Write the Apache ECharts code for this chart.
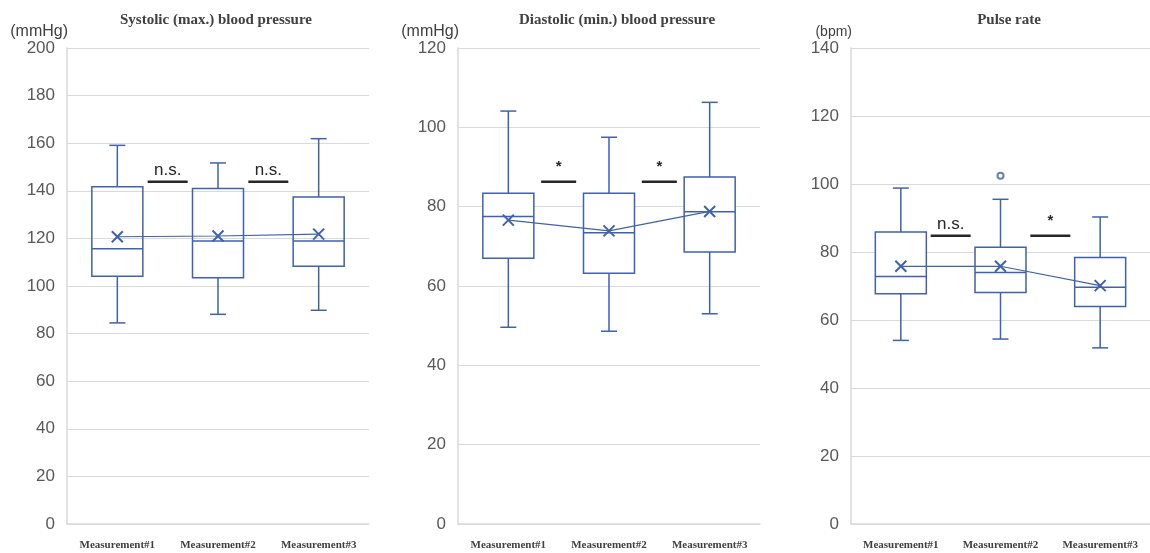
<!DOCTYPE html>
<html>
<head>
<meta charset="utf-8">
<script src="https://cdn.jsdelivr.net/npm/echarts@6/dist/echarts.min.js"></script>
<style>
  html, body { margin: 0; padding: 0; background: #fff; }
  #chart { width: 1150px; height: 553px; }
</style>
</head>
<body>
<div id="chart"></div>
<script>
// Categories shared by all three panels
const categories = ['Measurement#1', 'Measurement#2', 'Measurement#3'];

// Panel titles, units and y-axis ranges
const titles = ['Systolic (max.) blood pressure', 'Diastolic (min.) blood pressure', 'Pulse rate'];
const units = ['(mmHg)', '(mmHg)', '(bpm)'];
const yMax = [200, 120, 140];

// Box statistics: [low whisker, Q1, median, Q3, high whisker]
const systolicBoxes = [
  [84.5, 104.1, 115.7, 141.7, 159.1],
  [88.1, 103.5, 118.9, 141.0, 151.7],
  [89.8, 108.3, 118.9, 137.4, 161.9]
];
const diastolicBoxes = [
  [49.6, 67.0, 77.5, 83.4, 104.1],
  [48.6, 63.2, 73.4, 83.4, 97.5],
  [53.0, 68.6, 78.7, 87.5, 106.3]
];
const pulseBoxes = [
  [54.0, 67.7, 72.8, 85.9, 98.8],
  [54.4, 68.1, 74.0, 81.4, 95.5],
  [51.8, 64.0, 69.6, 78.4, 90.3]
];

// Means (marked with ×, joined by a line)
const systolicMeans = [120.7, 121.0, 121.8];
const diastolicMeans = [76.6, 73.9, 78.8];
const pulseMeans = [75.8, 75.8, 70.1];

// Outliers: [category index, value]
const pulseOutliers = [[1, 102.4]];

// Significance marks between neighbouring groups: [left group index, bar height]
const systolicSig = [[0, 143.8], [1, 143.8]];
const systolicSigText = ['n.s.', 'n.s.'];
const diastolicSig = [[0, 86.3], [1, 86.3]];
const diastolicSigText = ['*', '*'];
const pulseSig = [[0, 84.8], [1, 84.8]];
const pulseSigText = ['n.s.', '*'];

const boxSets = [systolicBoxes, diastolicBoxes, pulseBoxes];
const meanSets = [systolicMeans, diastolicMeans, pulseMeans];
const sigSets = [systolicSig, diastolicSig, pulseSig];
const sigTexts = [systolicSigText, diastolicSigText, pulseSigText];

const BLUE = '#3f62ab';
const GRID_LEFT = [67, 458, 851];
const GRID_W = 302;
const TITLE_X = [211, 612, 1004];
const BOX_FILL = ['transparent', '#fff', '#fff'];
const SIG_HALF = [20, 17.5, 20];

const X_PATH = 'path://M0,0L10,10M10,0L0,10';

function boxRender(fill) {
  return function (params, api) {
    const i = api.value(0);
    const lo = api.coord([i, api.value(1)]);
    const q1 = api.coord([i, api.value(2)]);
    const md = api.coord([i, api.value(3)]);
    const q3 = api.coord([i, api.value(4)]);
    const hi = api.coord([i, api.value(5)]);
    const cx = lo[0];
    const hw = 25.5, cap = 8;
    const ls = { stroke: BLUE, lineWidth: 1.5, fill: 'none' };
    return {
      type: 'group',
      children: [
        { type: 'line', shape: { x1: cx, y1: hi[1], x2: cx, y2: q3[1] }, style: ls },
        { type: 'line', shape: { x1: cx, y1: q1[1], x2: cx, y2: lo[1] }, style: ls },
        { type: 'line', shape: { x1: cx - cap, y1: hi[1], x2: cx + cap, y2: hi[1] }, style: ls },
        { type: 'line', shape: { x1: cx - cap, y1: lo[1], x2: cx + cap, y2: lo[1] }, style: ls },
        { type: 'rect', shape: { x: cx - hw, y: q3[1], width: hw * 2, height: q1[1] - q3[1] },
          style: { stroke: BLUE, lineWidth: 1.5, fill: fill } },
        { type: 'line', shape: { x1: cx - hw, y1: md[1], x2: cx + hw, y2: md[1] }, style: ls }
      ]
    };
  };
}

function sigRender(p) {
  return function (params, api) {
    const i = api.value(0);
    const v = api.value(1);
    const a = api.coord([i, v]);
    const b = api.coord([i + 1, v]);
    const cx = (a[0] + b[0]) / 2;
    const y = a[1];
    const txt = sigTexts[p][params.dataIndex];
    const star = txt === '*';
    return {
      type: 'group',
      children: [
        { type: 'line', shape: { x1: cx - SIG_HALF[p], y1: y, x2: cx + SIG_HALF[p], y2: y },
          style: { stroke: '#262626', lineWidth: 2.5 } },
        { type: 'text', x: cx, y: star ? y - 7 : y - 3,
          style: {
            text: txt, textAlign: 'center', textVerticalAlign: 'bottom',
            fill: '#262626',
            font: star ? 'bold 15px "Liberation Sans", sans-serif' : '17px "Liberation Sans", sans-serif'
          } }
      ]
    };
  };
}

const grids = [], xAxes = [], yAxes = [], series = [], titleList = [];
for (let p = 0; p < 3; p++) {
  grids.push({ left: GRID_LEFT[p], top: 48, width: GRID_W, height: 476 });
  titleList.push({
    text: titles[p], left: TITLE_X[p], top: 8, textAlign: 'center',
    textStyle: { fontFamily: '"Liberation Serif", serif', fontWeight: 'bold', fontSize: 15, color: '#404040' }
  });
  xAxes.push({
    type: 'category', gridIndex: p, data: categories, boundaryGap: true,
    axisLine: { show: true, lineStyle: { color: '#d9d9d9', width: 1.5 } },
    axisTick: { show: false },
    splitLine: { show: false },
    axisLabel: {
      margin: 16, fontFamily: '"Liberation Serif", serif', fontWeight: 'bold',
      fontSize: 11, color: '#404040', interval: 0
    }
  });
  yAxes.push({
    type: 'value', gridIndex: p, min: 0, max: yMax[p], interval: 20,
    name: units[p], nameLocation: 'end', nameGap: 8,
    nameTextStyle: {
      align: 'right', fontFamily: '"Liberation Sans", sans-serif',
      fontSize: p === 2 ? 14 : 16, color: '#404040', padding: [0, -1, 0, 0]
    },
    axisLine: { show: true, lineStyle: { color: '#d9d9d9', width: 1.5 } },
    axisTick: { show: false },
    splitLine: { show: true, lineStyle: { color: '#d9d9d9', width: 1.2 } },
    axisLabel: {
      margin: 12, fontFamily: '"Liberation Sans", sans-serif', fontSize: 17, color: '#595959'
    }
  });
  series.push({
    type: 'custom', xAxisIndex: p, yAxisIndex: p,
    renderItem: boxRender(BOX_FILL[p]),
    encode: { x: 0, y: [1, 2, 3, 4, 5] },
    data: boxSets[p].map((b, i) => [i].concat(b)),
    z: 2
  });
  series.push({
    type: 'line', xAxisIndex: p, yAxisIndex: p,
    data: meanSets[p],
    symbol: X_PATH, symbolSize: 11,
    lineStyle: { color: BLUE, width: 1.2 },
    itemStyle: { color: 'none', borderColor: BLUE, borderWidth: 2 },
    z: 3
  });
  series.push({
    type: 'custom', xAxisIndex: p, yAxisIndex: p,
    renderItem: sigRender(p),
    encode: { x: 0, y: 1 },
    data: sigSets[p],
    z: 4
  });
}
series.push({
  type: 'scatter', xAxisIndex: 2, yAxisIndex: 2,
  data: pulseOutliers,
  symbol: 'emptyCircle', symbolSize: 6,
  itemStyle: { color: BLUE, borderColor: BLUE, borderWidth: 1.5 },
  z: 3
});

const chart = echarts.init(document.getElementById('chart'), null, { renderer: 'canvas' });
chart.setOption({
  animation: false,
  backgroundColor: '#fff',
  title: titleList,
  grid: grids,
  xAxis: xAxes,
  yAxis: yAxes,
  series: series
});
</script>
</body>
</html>
